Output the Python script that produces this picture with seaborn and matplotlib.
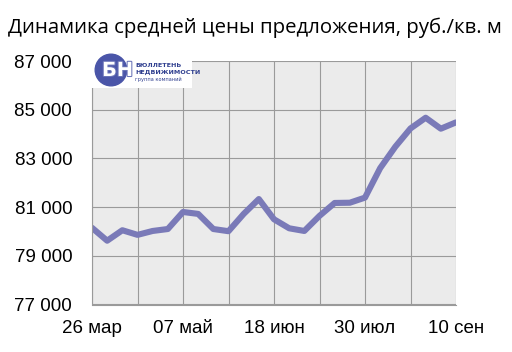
import matplotlib
matplotlib.use("Agg")
import matplotlib.pyplot as plt
import matplotlib.patheffects as pe
from matplotlib.patches import Circle
import seaborn as sns
import pandas as pd
from matplotlib.ticker import FuncFormatter

# ---- data ----
week_index = list(range(25))
prices = [80150, 79620, 80050, 79860, 80020, 80100, 80800, 80720, 80100, 80010,
          80720, 81330, 80500, 80130, 80020, 80640, 81170, 81180, 81390, 82600,
          83480, 84230, 84670, 84220, 84480]
x_tick_pos = [0, 6, 12, 18, 24]
x_tick_labels = ["26 мар", "07 май", "18 июн", "30 июл", "10 сен"]
y_ticks = [77000, 79000, 81000, 83000, 85000, 87000]
title = "Динамика средней цены предложения, руб./кв. м"

df = pd.DataFrame({"week": week_index, "price": prices})

sns.set_style("white")
plt.rcParams["font.family"] = ["Liberation Sans", "DejaVu Sans"]

W, H = 512, 352
fig = plt.figure(figsize=(W / 100, H / 100), dpi=100)
fig.patch.set_facecolor("white")

ax = fig.add_axes([92 / W, 1 - 304.5 / H, (456 - 92) / W, (304.5 - 61) / H])
ax.set_facecolor("#ebebeb")

sns.lineplot(data=df, x="week", y="price", ax=ax, color="#7a7ab8",
             linewidth=4.4, solid_joinstyle="round", solid_capstyle="round")

ax.set_xlim(0, 24)
ax.set_ylim(77000, 87000)
ax.set_xticks(x_tick_pos)
ax.set_xticklabels(x_tick_labels)
ax.set_xticks(list(range(0, 25, 3)), minor=True)
ax.set_yticks(y_ticks)
ax.yaxis.set_major_formatter(FuncFormatter(lambda v, p: f"{int(v):,}".replace(",", " ")))
ax.set_xlabel("")
ax.set_ylabel("")

ax.grid(True, which="both", axis="x", color="#9a9a9a", linewidth=0.8)
ax.grid(True, which="major", axis="y", color="#9a9a9a", linewidth=0.8)
ax.set_axisbelow(True)

for s in ["top", "right"]:
    ax.spines[s].set_visible(False)
for s in ["left", "bottom"]:
    ax.spines[s].set_color("#9a9a9a")
    ax.spines[s].set_linewidth(0.8)

ax.tick_params(axis="y", which="major", length=4.3, width=0.8, color="#9a9a9a",
               pad=10, labelsize=13.5, labelcolor="black")
ax.tick_params(axis="x", which="major", length=4.0, width=0.8, color="#9a9a9a",
               pad=7, labelsize=13.5, labelcolor="black")
ax.tick_params(axis="x", which="minor", length=0)

fig.text(8 / W, 1 - 33 / H, title, family=["Open Sans", "DejaVu Sans"],
         fontsize=14.7, color="black", ha="left", va="baseline")

# ---- logo ----
lax = fig.add_axes([80 / W, 1 - 88 / H, 112 / W, 38 / H])
lax.set_xlim(0, 112)
lax.set_ylim(0, 38)
lax.set_facecolor("white")
lax.set_xticks([])
lax.set_yticks([])
for s in lax.spines.values():
    s.set_visible(False)
lax.add_patch(Circle((31, 18), 15.8, color="#4a55a8"))
lax.text(37.5, 17.5, "БН", fontsize=14, fontweight="bold", color="white",
         family="DejaVu Sans", ha="center", va="center",
         path_effects=[pe.withStroke(linewidth=1.5, foreground="#6a74b8")])
lax.text(55, 22.5, "БЮЛЛЕТЕНЬ", fontsize=4.6, fontweight="bold", color="#2f3f8f",
         family="DejaVu Sans", ha="left", va="center")
lax.text(55, 16, "НЕДВИЖИМОСТИ", fontsize=4.6, fontweight="bold", color="#2f3f8f",
         family="DejaVu Sans", ha="left", va="center")
lax.text(55, 9, "группа компаний", fontsize=3.6, color="#2f3f8f",
         family="DejaVu Sans", ha="left", va="center")

fig.savefig("out.png", dpi=100)
